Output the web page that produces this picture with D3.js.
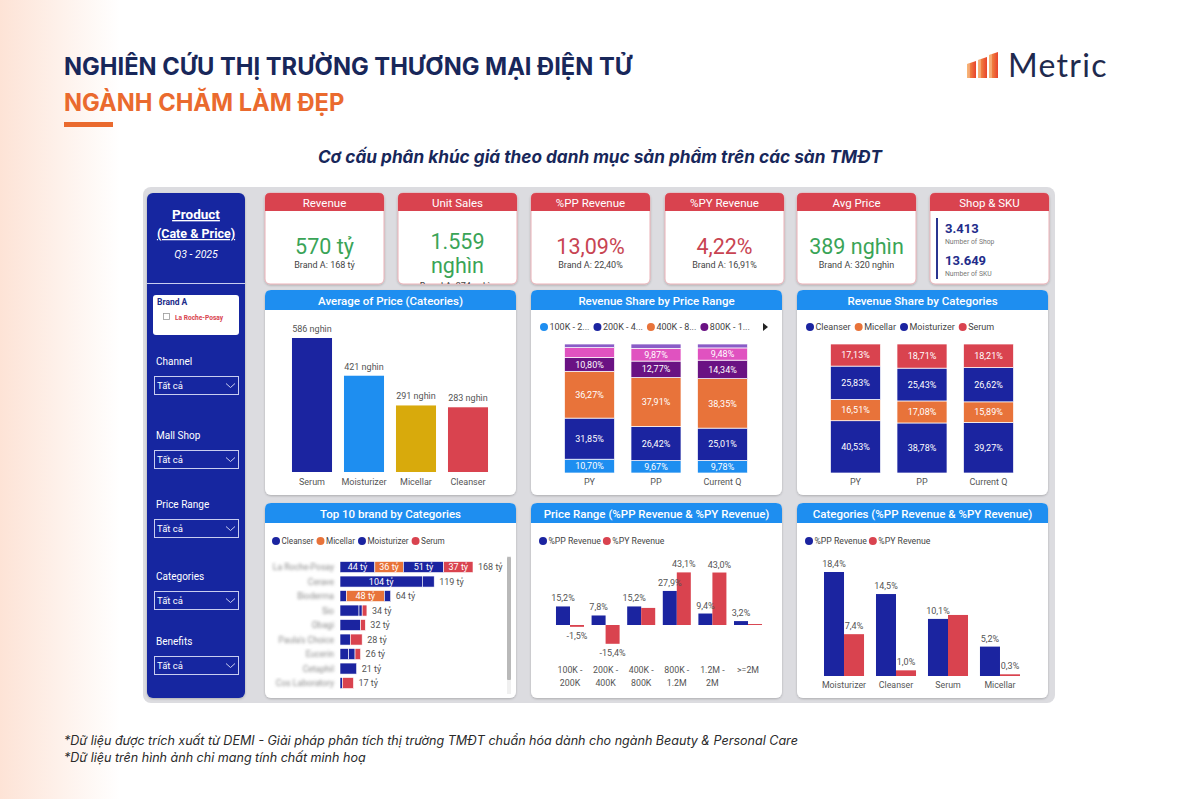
<!DOCTYPE html>
<html>
<head>
<meta charset="utf-8">
<script src="https://cdn.jsdelivr.net/npm/d3@7"></script>
<style>
  html, body { margin: 0; padding: 0; background: #fff; }
  svg { display: block; }
</style>
</head>
<body>
<svg id="chart" width="1200" height="799"></svg>
<script>
// ---------- data ----------
const kpiTitles = ["Revenue", "Unit Sales", "%PP Revenue", "%PY Revenue", "Avg Price"];
const kpiValues = [["570 tỷ"], ["1.559", "nghìn"], ["13,09%"], ["4,22%"], ["389 nghìn"]];
const kpiBrandA = ["Brand A: 168 tỷ", "Brand A: 374 nghìn", "Brand A: 22,40%", "Brand A: 16,91%", "Brand A: 320 nghìn"];
const kpiUp = [true, true, false, false, true];
const shopSku = [["3.413", "Number of Shop"], ["13.649", "Number of SKU"]];

const filters = ["Channel", "Mall Shop", "Price Range", "Categories", "Benefits"];

const priceCats = ["Serum", "Moisturizer", "Micellar", "Cleanser"];
const avgPrice = [586, 421, 291, 283];

const periods = ["PY", "PP", "Current Q"];
const priceRanges = ["100K - 200K", "200K - 400K", "400K - 800K", "800K - 1.2M", "1.2M - 2M", ">=2M"];
// share of revenue (%) per price range, values for PY / PP / Current Q
const shareByRange = [
  [10.70, 9.67, 9.78],
  [31.85, 26.42, 25.01],
  [36.27, 37.91, 38.35],
  [10.80, 12.77, 14.34],
  [7.60, 9.87, 9.48],
  [2.78, 3.36, 3.04]
];

const categories = ["Cleanser", "Micellar", "Moisturizer", "Serum"];
const shareByCat = [
  [40.53, 38.78, 39.27],
  [16.51, 17.08, 15.89],
  [25.83, 25.43, 26.62],
  [17.13, 18.71, 18.21]
];

// top brands, revenue (tỷ) per category
const brands = ["La Roche-Posay", "Cerave", "Bioderma", "Sio", "Obagi", "Paula's Choice", "Eucerin", "Cetaphil", "Cos Laboratory"];
const brandCleanser = [44, 104, 8, 24, 26, 0, 11, 21, 0];
const brandMicellar = [36, 0, 48, 0, 0, 0, 0, 0, 0];
const brandMoisturizer = [51, 15, 8, 4, 0, 13, 8, 0, 3];
const brandSerum = [37, 0, 0, 6, 6, 15, 7, 0, 14];

const rangePP = [15.2, 7.8, 15.2, 27.9, 9.4, 3.2];
const rangePY = [-1.5, -15.4, 14.0, 43.1, 43.0, 0.8];

const growthCats = ["Moisturizer", "Cleanser", "Serum", "Micellar"];
const catPP = [18.4, 14.5, 10.1, 5.2];
const catPY = [7.4, 1.0, 10.8, 0.3];

// ---------- styles ----------
const navy = "#1b24a0", blue = "#1e8ef0", gold = "#d8aa0c", red = "#d9434f",
      orange = "#e8733a", purple = "#6a1283", pink = "#e052c0", lilac = "#8a5cc7";
const rangeColors = [blue, navy, orange, purple, pink, lilac];
const catColors = [navy, orange, navy, red];
const FONT = "Roboto, 'Noto Sans', sans-serif";

const vn = d3.formatLocale({decimal: ",", thousands: ".", grouping: [3], currency: ["", ""], minus: "-"});
const pct2 = v => vn.format(".2f")(v) + "%";
const pct1 = v => vn.format(".1f")(v) + "%";

const svg = d3.select("#chart").style("font-family", FONT);
const defs = svg.append("defs");

const bg = defs.append("linearGradient").attr("id", "bgGrad").attr("x1", 0).attr("x2", 1).attr("y1", 0).attr("y2", 0);
bg.append("stop").attr("offset", 0).attr("stop-color", "#fde3d6");
bg.append("stop").attr("offset", 0.1).attr("stop-color", "#ffffff");

const sh = defs.append("filter").attr("id", "shadow").attr("x", "-10%").attr("y", "-10%").attr("width", "120%").attr("height", "130%");
sh.append("feDropShadow").attr("dx", 0).attr("dy", 1).attr("stdDeviation", 1.2).attr("flood-color", "#000").attr("flood-opacity", 0.22);

defs.append("filter").attr("id", "blur").attr("x", "-10%").attr("width", "120%")
  .append("feGaussianBlur").attr("stdDeviation", 1.6);

const logoGrad = defs.append("linearGradient").attr("id", "logoGrad").attr("x1", 0).attr("x2", 1).attr("y1", 0).attr("y2", 0);
logoGrad.append("stop").attr("offset", 0).attr("stop-color", "#f5a04a");
logoGrad.append("stop").attr("offset", 1).attr("stop-color", "#e8432c");

svg.append("rect").attr("width", 1200).attr("height", 799).attr("fill", "url(#bgGrad)");

// ---------- header ----------
svg.append("text").attr("x", 64).attr("y", 75)
  .attr("font-family", "Inter, Roboto, sans-serif").attr("font-weight", 700).attr("font-size", 23.7)
  .attr("fill", "#18275a").text("NGHIÊN CỨU THỊ TRƯỜNG THƯƠNG MẠI ĐIỆN TỬ");
svg.append("text").attr("x", 64).attr("y", 111)
  .attr("font-family", "Inter, Roboto, sans-serif").attr("font-weight", 700).attr("font-size", 23.7)
  .attr("fill", "#ea6a2e").text("NGÀNH CHĂM LÀM ĐẸP");
svg.append("rect").attr("x", 64).attr("y", 122).attr("width", 49).attr("height", 5).attr("fill", "#ea6a2e");
svg.append("text").attr("x", 600).attr("y", 163).attr("text-anchor", "middle")
  .attr("font-family", "Inter, Roboto, sans-serif").attr("font-weight", 700).attr("font-style", "italic").attr("font-size", 17.2)
  .attr("fill", "#18275a").text("Cơ cấu phân khúc giá theo danh mục sản phẩm trên các sàn TMĐT");

// logo
const logo = svg.append("g");
[[967, 61], [978, 57], [989, 52]].forEach(([x, t]) => {
  logo.append("path").attr("d", `M${x},78 L${x},${t + 3} L${x + 9},${t} L${x + 9},78 Z`).attr("fill", "url(#logoGrad)");
  logo.append("path").attr("d", `M${x},78 L${x},${t + 3} L${x + 3},${t + 2} L${x + 3},78 Z`).attr("fill", "#ffffff").attr("opacity", 0.25);
});
logo.append("text").attr("x", 1008).attr("y", 77).attr("font-family", "Lato, 'Open Sans', sans-serif")
  .attr("font-size", 32).attr("font-weight", 400).attr("letter-spacing", 1.3).attr("fill", "#1f2a4e").text("Metric");

// ---------- footer ----------
svg.append("text").attr("x", 64).attr("y", 745).attr("font-style", "italic").attr("font-size", 12.55)
  .attr("font-family", "Inter, Roboto, sans-serif").attr("fill", "#2a2a2a")
  .text("*Dữ liệu được trích xuất từ DEMI - Giải pháp phân tích thị trường TMĐT chuẩn hóa dành cho ngành Beauty & Personal Care");
svg.append("text").attr("x", 64).attr("y", 762).attr("font-style", "italic").attr("font-size", 12.55)
  .attr("font-family", "Inter, Roboto, sans-serif").attr("fill", "#2a2a2a")
  .text("*Dữ liệu trên hình ảnh chỉ mang tính chất minh hoạ");

// ---------- dashboard frame ----------
svg.append("rect").attr("x", 143).attr("y", 187).attr("width", 912).attr("height", 516).attr("rx", 8)
  .attr("fill", "#dcdce0");

// sidebar
const side = svg.append("g");
side.append("rect").attr("x", 147).attr("y", 193).attr("width", 98).attr("height", 505).attr("rx", 6)
  .attr("fill", "#1428a0").attr("filter", "url(#shadow)");
side.append("text").attr("x", 196).attr("y", 219).attr("text-anchor", "middle").attr("fill", "#fff")
  .attr("font-weight", 700).attr("font-size", 13.5).style("text-decoration", "underline").text("Product ");
side.append("text").attr("x", 196).attr("y", 238).attr("text-anchor", "middle").attr("fill", "#fff")
  .attr("font-weight", 700).attr("font-size", 12.5).style("text-decoration", "underline").text("(Cate & Price)");
side.append("text").attr("x", 196).attr("y", 258).attr("text-anchor", "middle").attr("fill", "#fff")
  .attr("font-style", "italic").attr("font-size", 10.5).text("Q3 - 2025");
side.append("line").attr("x1", 147).attr("x2", 245).attr("y1", 283.5).attr("y2", 283.5).attr("stroke", "#c8cdf0").attr("stroke-width", 1);
side.append("rect").attr("x", 153).attr("y", 295).attr("width", 86).attr("height", 40).attr("rx", 3).attr("fill", "#fff");
side.append("text").attr("x", 157).attr("y", 305).attr("font-weight", 700).attr("font-size", 8.5).attr("fill", "#1b2a8a").text("Brand A");
side.append("rect").attr("x", 163.5).attr("y", 313.5).attr("width", 6).attr("height", 6).attr("fill", "none").attr("stroke", "#999").attr("stroke-width", 0.8);
side.append("text").attr("x", 175).attr("y", 319.5).attr("font-weight", 700).attr("font-size", 6.6).attr("fill", "#d9434f").text("La Roche-Posay");

const filterY = [365, 439, 508, 580, 645];
filters.forEach((f, i) => {
  const y = filterY[i];
  side.append("text").attr("x", 156).attr("y", y).attr("fill", "#fff").attr("font-size", 10).text(f);
  side.append("rect").attr("x", 154.5).attr("y", y + 11.5).attr("width", 84).attr("height", 18)
    .attr("fill", "none").attr("stroke", "#c8cdf0").attr("stroke-width", 1);
  side.append("text").attr("x", 157).attr("y", y + 24).attr("fill", "#fff").attr("font-size", 9.5).text("Tất cả");
  side.append("path").attr("d", `M${226},${y + 18.5} l4.5,4 l4.5,-4`).attr("fill", "none").attr("stroke", "#c8cdf0").attr("stroke-width", 1);
});

// ---------- helpers ----------
function topRounded(x, y, w, h, r) {
  return `M${x},${y + h} L${x},${y + r} Q${x},${y} ${x + r},${y} L${x + w - r},${y} Q${x + w},${y} ${x + w},${y + r} L${x + w},${y + h} Z`;
}

function panel(x, y, w, h, title) {
  const g = svg.append("g");
  g.append("rect").attr("x", x).attr("y", y).attr("width", w).attr("height", h).attr("rx", 6)
    .attr("fill", "#fff").attr("filter", "url(#shadow)");
  g.append("path").attr("d", topRounded(x, y, w, 20, 6)).attr("fill", blue);
  g.append("text").attr("x", x + w / 2).attr("y", y + 14.5).attr("text-anchor", "middle")
    .attr("fill", "#fff").attr("font-size", 11.5).attr("font-weight", 500).text(title);
  return g;
}

function legend(g, x, y, items, colors, size, gap) {
  let cx = x;
  items.forEach((t, i) => {
    g.append("circle").attr("cx", cx + 4).attr("cy", y).attr("r", 4).attr("fill", colors[i]);
    const tx = g.append("text").attr("x", cx + 9.5).attr("y", y).attr("dy", "0.35em")
      .attr("font-size", size).attr("fill", "#444").text(t);
    cx += 9.5 + tx.node().getComputedTextLength() + (gap || 4);
  });
  return cx;
}

// remove labels that collide with ones already kept
function hideOverlaps(sel) {
  const kept = [];
  sel.each(function () {
    const b = this.getBBox();
    const hit = kept.some(k => b.x < k.x + k.width && b.x + b.width > k.x && b.y < k.y + k.height && b.y + b.height > k.y);
    if (hit) d3.select(this).remove(); else kept.push(b);
  });
}

// ---------- KPI cards ----------
const cardX = [265, 398, 531, 665, 797, 930];
const cardY = 193, cardW = 119, cardH = 91;
cardX.forEach((x, i) => {
  const g = svg.append("g");
  defs.append("clipPath").attr("id", "card" + i).append("rect").attr("x", x).attr("y", cardY).attr("width", cardW).attr("height", cardH).attr("rx", 5);
  g.append("rect").attr("x", x).attr("y", cardY).attr("width", cardW).attr("height", cardH).attr("rx", 5)
    .attr("fill", "#fff").attr("stroke", "#eab0b6").attr("stroke-width", 1).attr("filter", "url(#shadow)");
  g.append("path").attr("d", topRounded(x, cardY, cardW, 18, 5)).attr("fill", red);
  const title = i < 5 ? kpiTitles[i] : "Shop & SKU";
  g.append("text").attr("x", x + cardW / 2).attr("y", cardY + 13.5).attr("text-anchor", "middle")
    .attr("fill", "#fff").attr("font-size", 11.5).text(title);
  const body = g.append("g").attr("clip-path", `url(#card${i})`);
  if (i < 5) {
    const lines = kpiValues[i];
    const col = kpiUp[i] ? "#3aa457" : "#c84452";
    const y0 = lines.length > 1 ? 249 : 254;
    lines.forEach((t, j) => {
      body.append("text").attr("x", x + cardW / 2).attr("y", y0 + j * 24).attr("text-anchor", "middle")
        .attr("fill", col).attr("font-size", 21.5).text(t);
    });
    body.append("text").attr("x", x + cardW / 2).attr("y", lines.length > 1 ? 289 : 268).attr("text-anchor", "middle")
      .attr("fill", "#444").attr("font-size", 9).text(kpiBrandA[i]);
  } else {
    body.append("line").attr("x1", x + 7).attr("x2", x + 7).attr("y1", 218).attr("y2", 279).attr("stroke", "#2a3590").attr("stroke-width", 2);
    shopSku.forEach(([v, lab], j) => {
      body.append("text").attr("x", x + 15).attr("y", 233 + j * 32).attr("fill", "#222c8a")
        .attr("font-weight", 700).attr("font-size", 13).text(v);
      body.append("text").attr("x", x + 15).attr("y", 244 + j * 32).attr("fill", "#777").attr("font-size", 6.8).text(lab);
    });
  }
});

// ---------- Average of Price ----------
{
  const g = panel(265, 290, 251, 205, "Average of Price (Cateories)");
  const x = d3.scaleBand().domain(priceCats).range([286, 494]).paddingInner(0.23).paddingOuter(0.115);
  const y = d3.scaleLinear().domain([0, d3.max(avgPrice)]).range([472, 338]);
  const cols = [navy, blue, gold, red];
  g.selectAll(".bar").data(avgPrice).join("rect")
    .attr("x", (d, i) => x(priceCats[i])).attr("width", x.bandwidth())
    .attr("y", d => y(d)).attr("height", d => y(0) - y(d)).attr("fill", (d, i) => cols[i]);
  g.selectAll(".lab").data(avgPrice).join("text")
    .attr("x", (d, i) => x(priceCats[i]) + x.bandwidth() / 2).attr("y", d => y(d) - 6)
    .attr("text-anchor", "middle").attr("font-size", 9).attr("fill", "#555").text(d => d + " nghìn");
  g.selectAll(".cat").data(priceCats).join("text")
    .attr("x", d => x(d) + x.bandwidth() / 2).attr("y", 485).attr("text-anchor", "middle")
    .attr("font-size", 9).attr("fill", "#555").text(d => d);
}

// ---------- 100% stacked share charts ----------
function shareChart(px, title, keys, values, colors, legendItems, arrow) {
  const g = panel(px, 290, 251, 205, title);
  legend(g, px + 9, 327, legendItems, colors, 9);
  if (arrow) g.append("path").attr("d", `M${px + 232},${323} l5,4 l-5,4 Z`).attr("fill", "#222");
  const rows = periods.map((p, j) => {
    const o = {period: p};
    keys.forEach((k, i) => o[k] = values[i][j]);
    return o;
  });
  const series = d3.stack().keys(keys)(rows);
  const x = d3.scaleBand().domain(periods).range([px + 17, px + 233]).paddingInner(0.248).paddingOuter(0.248);
  const y = d3.scaleLinear().domain([0, 100]).range([473, 344]);
  series.forEach((s, i) => {
    g.selectAll(null).data(s).join("rect")
      .attr("x", d => x(d.data.period)).attr("width", x.bandwidth())
      .attr("y", d => y(d[1])).attr("height", d => y(d[0]) - y(d[1]))
      .attr("fill", colors[i]).attr("stroke", "#fff").attr("stroke-width", 0.7);
    g.selectAll(null).data(s.filter(d => d[1] - d[0] >= 8)).join("text")
      .attr("x", d => x(d.data.period) + x.bandwidth() / 2).attr("y", d => y((d[0] + d[1]) / 2))
      .attr("dy", "0.35em").attr("text-anchor", "middle").attr("fill", "#fff").attr("font-size", 9)
      .text(d => pct2(d[1] - d[0]));
  });
  g.selectAll(null).data(periods).join("text")
    .attr("x", d => x(d) + x.bandwidth() / 2).attr("y", 485).attr("text-anchor", "middle")
    .attr("font-size", 9).attr("fill", "#555").text(d => d);
}
shareChart(531, "Revenue Share by Price Range", priceRanges, shareByRange, rangeColors,
  priceRanges.slice(0, 4).map(d => d.slice(0, 8) + "..."), true);
shareChart(797, "Revenue Share by Categories", categories, shareByCat, catColors, categories, false);

// ---------- Top 10 brand ----------
{
  const g = panel(265, 503, 251, 195, "Top 10 brand by Categories");
  legend(g, 272, 541, categories, catColors, 8.2, 3);
  const rows = brands.map((b, i) => ({brand: b, Cleanser: brandCleanser[i], Micellar: brandMicellar[i], Moisturizer: brandMoisturizer[i], Serum: brandSerum[i]}));
  const totals = rows.map(r => categories.reduce((a, k) => a + r[k], 0));
  const series = d3.stack().keys(categories)(rows);
  const x = d3.scaleLinear().domain([0, d3.max(totals)]).range([340, 473]);
  const y = d3.scaleBand().domain(brands).range([559.8, 690.3]).paddingInner(0.24).paddingOuter(0.12);
  series.forEach((s, i) => {
    g.selectAll(null).data(s).join("rect")
      .attr("x", d => x(d[0])).attr("width", d => x(d[1]) - x(d[0]))
      .attr("y", d => y(d.data.brand)).attr("height", y.bandwidth())
      .attr("fill", catColors[i]).attr("stroke", "#fff").attr("stroke-width", 0.6);
    g.selectAll(null).data(s.filter(d => x(d[1]) - x(d[0]) > 22)).join("text")
      .attr("x", d => (x(d[0]) + x(d[1])) / 2).attr("y", d => y(d.data.brand) + y.bandwidth() / 2)
      .attr("dy", "0.36em").attr("text-anchor", "middle").attr("fill", "#fff").attr("font-size", 9)
      .text(d => (d[1] - d[0]) + " tỷ");
  });
  g.selectAll(null).data(brands).join("text")
    .attr("x", (d, i) => x(totals[i]) + 5).attr("y", d => y(d) + y.bandwidth() / 2).attr("dy", "0.36em")
    .attr("font-size", 9).attr("fill", "#555").text((d, i) => totals[i] + " tỷ");
  g.selectAll(null).data(brands).join("text")
    .attr("x", 334).attr("y", d => y(d) + y.bandwidth() / 2).attr("dy", "0.36em").attr("text-anchor", "end")
    .attr("font-size", 8.6).attr("fill", "#8a8a8a").attr("filter", "url(#blur)").text(d => d);
  g.append("rect").attr("x", 507).attr("y", 556).attr("width", 4).attr("height", 138).attr("fill", "#f0f0f0");
  g.append("rect").attr("x", 507).attr("y", 557).attr("width", 4).attr("height", 123).attr("rx", 1).attr("fill", "#b9b9b9");
}

// ---------- growth charts ----------
function growthChart(px, title, cats, pp, py, yScale, xRange, pi, po, twoLine) {
  const g = panel(px, 503, 251, 195, title);
  legend(g, px + 8, 541, ["%PP Revenue", "%PY Revenue"], [navy, red], 8.7, 2);
  const x0 = d3.scaleBand().domain(cats).range(xRange).paddingInner(pi).paddingOuter(po);
  const x1 = d3.scaleBand().domain(["pp", "py"]).range([0, x0.bandwidth()]);
  const rows = cats.map((c, i) => ({cat: c, pp: pp[i], py: py[i]}));
  const y = yScale;
  const bars = [];
  rows.forEach(r => ["pp", "py"].forEach(k => bars.push({cat: r.cat, key: k, v: r[k]})));
  g.selectAll(null).data(bars).join("rect")
    .attr("x", d => x0(d.cat) + x1(d.key)).attr("width", x1.bandwidth())
    .attr("y", d => y(Math.max(0, d.v))).attr("height", d => Math.abs(y(d.v) - y(0)))
    .attr("fill", d => d.key === "pp" ? navy : red);
  const labs = g.selectAll(null).data(bars).join("text")
    .attr("x", d => x0(d.cat) + x1(d.key) + x1.bandwidth() / 2)
    .attr("y", d => d.v >= 0 ? y(d.v) - 5 : y(d.v) + 12)
    .attr("text-anchor", "middle").attr("font-size", 9).attr("fill", "#555").text(d => pct1(d.v));
  hideOverlaps(labs);
  cats.forEach(c => {
    const parts = twoLine && c.includes(" - ") ? [c.split(" - ")[0] + " -", c.split(" - ")[1]] : [c];
    parts.forEach((t, j) => {
      g.append("text").attr("x", x0(c) + x0.bandwidth() / 2).attr("y", (twoLine ? 673 : 688) + j * 13)
        .attr("text-anchor", "middle").attr("font-size", 8.8).attr("fill", "#555").text(t);
    });
  });
}
growthChart(531, "Price Range (%PP Revenue & %PY Revenue)", priceRanges, rangePP, rangePY,
  d3.scaleLinear().domain([0, 43.1]).range([625, 572.4]), [545.3, 772.7], 0.213, 0.3, true);
growthChart(797, "Categories (%PP Revenue & %PY Revenue)", growthCats, catPP, catPY,
  d3.scaleLinear().domain([0, 18.4]).range([676, 572]), [808.4, 1035.6], 0.23, 0.3, false);
</script>
</body>
</html>
